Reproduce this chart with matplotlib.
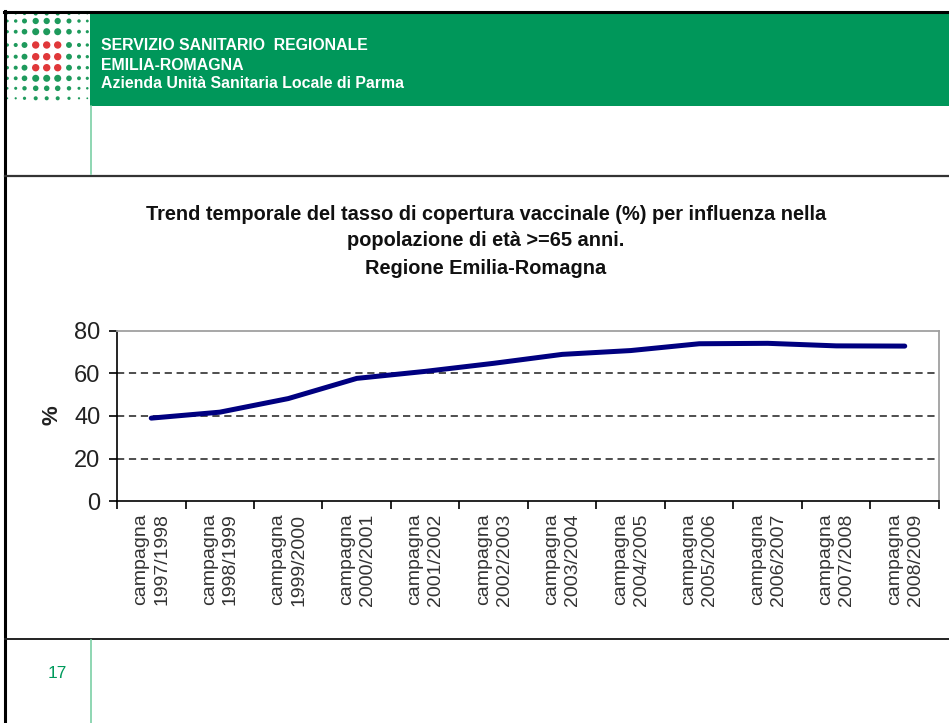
import matplotlib
matplotlib.use("Agg")
import matplotlib.pyplot as plt
from matplotlib.patches import Rectangle
import numpy as np

plt.rcParams['font.family'] = ['Liberation Sans', 'DejaVu Sans']

# ---- data ----
campagne = ["1997/1998", "1998/1999", "1999/2000", "2000/2001", "2001/2002",
            "2002/2003", "2003/2004", "2004/2005", "2005/2006", "2006/2007",
            "2007/2008", "2008/2009"]
copertura = [39.0, 41.8, 48.2, 57.7, 61.0, 64.8, 69.0, 70.8, 74.0, 74.2, 73.0, 72.9]
y_ticks = [0, 20, 40, 60, 80]
title_lines = ["Trend temporale del tasso di copertura vaccinale (%) per influenza nella",
               "popolazione di età >=65 anni.",
               "Regione Emilia-Romagna"]
header_lines = ["SERVIZIO SANITARIO  REGIONALE", "EMILIA-ROMAGNA",
                "Azienda Unità Sanitaria Locale di Parma"]
page_number = "17"

W, H = 949, 723
fig = plt.figure(figsize=(W / 100, H / 100), dpi=100)
fig.patch.set_facecolor("white")

# full-figure overlay in pixel coordinates for the slide decoration
deco = fig.add_axes([0, 0, 1, 1], zorder=0)
deco.set_xlim(0, W)
deco.set_ylim(H, 0)
deco.axis("off")

GREEN = "#00975A"

deco.add_patch(Rectangle((90, 13), W - 90, 93, facecolor=GREEN, edgecolor="none"))

# logo dots
col_x = [7.3, 15.7, 24.5, 35.7, 46.7, 57.7, 69, 79, 87.3]
row_y = [13.5, 21, 31.7, 45, 56.7, 67.7, 78.3, 88.3, 98.3]
cw = [0.45, 0.55, 0.8, 1.0, 1.0, 1.0, 0.8, 0.55, 0.45]
rw = [0.55, 0.85, 0.95, 1.0, 1.0, 1.0, 0.95, 0.75, 0.55]
xs, ys, ss, cs = [], [], [], []
for r, yy in enumerate(row_y):
    for c, xx in enumerate(col_x):
        rad = 3.7 * cw[c] * rw[r]
        xs.append(xx)
        ys.append(yy)
        ss.append((2 * rad * 0.72) ** 2)
        cs.append("#E0383A" if (3 <= r <= 5 and 3 <= c <= 5) else "#1E9A5C")
deco.scatter(xs, ys, s=ss, c=cs, linewidths=0)
deco.add_patch(Rectangle((0, 0), W, 11, facecolor="white", edgecolor="none"))

# borders
deco.plot([4, W], [12, 12], color="black", lw=2.2)
deco.plot([5.5, 5.5], [11, H], color="black", lw=2.2)
deco.plot([5, W], [175.5, 175.5], color="#333333", lw=1.6)
deco.plot([5, W], [638.5, 638.5], color="#222222", lw=1.4)
deco.plot([91, 91], [106, 174], color="#7ccfa6", lw=1.2)
deco.plot([91, 91], [640, H], color="#7ccfa6", lw=1.2)

# header text
for i, t in enumerate(header_lines):
    deco.text(101, 46 + 19 * i, t, color="white", fontsize=11.4,
              fontweight="bold", va="center", ha="left")

deco.text(57, 673, page_number, color="#009A5C", fontsize=12.5,
          ha="center", va="center")

# chart title
for i, t in enumerate(title_lines):
    deco.text(486, 214 + 27 * i, t, fontsize=14.4, fontweight="bold",
              ha="center", va="center", color="#111111")

deco.text(52, 415, "%", rotation=90, fontsize=16, fontweight="bold",
          ha="center", va="center", color="#222222")

# chart axes
ax = fig.add_axes([117 / W, 1 - 501 / H, (939 - 117) / W, (501 - 331) / H], zorder=2)
x = np.arange(len(campagne)) + 0.5
ax.plot(x, copertura, color="#000080", lw=3.6, solid_capstyle="round",
        solid_joinstyle="round", zorder=3)
ax.set_xlim(0, len(campagne))
ax.set_ylim(0, 80)
ax.set_yticks(y_ticks)
ax.set_yticklabels([str(v) for v in y_ticks], fontsize=17, color="#222222")
for v in y_ticks[1:-1]:
    ax.axhline(v, color="#404040", lw=1.3, dashes=(4, 2.6), zorder=1)

ax.set_xticks(np.arange(len(campagne) + 1))
ax.set_xticklabels([])
ax.set_xticks(x, minor=True)
ax.set_xticklabels(["campagna\n" + c for c in campagne], minor=True, rotation=90,
                   fontsize=14, color="#333333", va="top", ha="center",
                   multialignment="right", linespacing=1.3)
ax.tick_params(axis="x", which="minor", length=0, pad=9)
ax.tick_params(axis="x", which="major", length=6, width=1.2, direction="out")
ax.tick_params(axis="y", length=6, width=1.2, direction="out", pad=6)

for s in ["top", "right"]:
    ax.spines[s].set_color("#a0a0a0")
    ax.spines[s].set_linewidth(1.3)
for s in ["left", "bottom"]:
    ax.spines[s].set_color("black")
    ax.spines[s].set_linewidth(1.2)

fig.savefig("out.png", dpi=100, facecolor="white")
